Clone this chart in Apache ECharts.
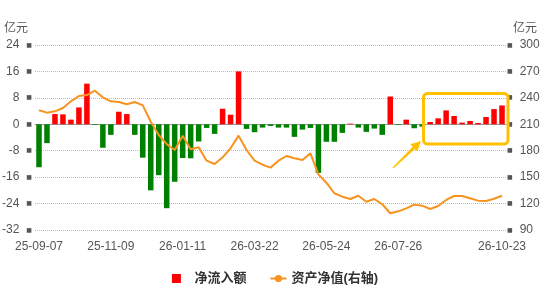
<!DOCTYPE html>
<html>
<head>
<meta charset="utf-8">
<script src="https://cdn.jsdelivr.net/npm/echarts@6/dist/echarts.min.js"></script>
<style>
	html, body { margin: 0; padding: 0; background: #fff; }
	#chart { width: 550px; height: 291px; }
</style>
</head>
<body>
<div id="chart"></div>
<script>
// weekly dates
var dates = [
	'25-09-07', '25-09-14', '25-09-21', '25-09-28', '25-10-05', '25-10-12', '25-10-19', '25-10-26', '25-11-02',
	'25-11-09', '25-11-16', '25-11-23', '25-11-30', '25-12-07', '25-12-14', '25-12-21', '25-12-28', '26-01-04',
	'26-01-11', '26-01-18', '26-01-25', '26-02-01', '26-02-08', '26-02-22', '26-03-01', '26-03-08', '26-03-15',
	'26-03-22', '26-03-29', '26-04-05', '26-04-12', '26-04-19', '26-04-26', '26-05-03', '26-05-10', '26-05-17',
	'26-05-24', '26-05-31', '26-06-07', '26-06-14', '26-06-21', '26-06-28', '26-07-05', '26-07-12', '26-07-19',
	'26-07-26', '26-08-02', '26-08-09', '26-08-16', '26-08-23', '26-08-30', '26-09-06', '26-09-13', '26-09-20',
	'26-09-27', '26-10-04', '26-10-11', '26-10-18', '26-10-23'
];

// 净流入额 (亿元)
var netFlow = [
	-13.0, -5.7, 3.1, 3.0, 1.4, 5.1, 12.3, -0.2, -7.1,
	-3.2, 3.8, 3.1, -3.2, -10.1, -20.0, -15.4, -25.4, -17.4,
	-10.2, -10.3, -5.2, -1.1, -2.9, 4.7, 2.9, 16.0, -1.4,
	-2.4, -1.0, -0.5, -1.0, -1.0, -3.8, -1.6, -1.1, -14.7,
	-5.3, -5.3, -2.6, 0.2, -1.0, -2.3, -1.3, -3.2, 8.4,
	-0.2, 1.4, -1.2, -0.7, 0.7, 1.8, 4.2, 2.5, 0.5,
	1.0, 0.4, 2.2, 4.6, 5.7
];

// 资产净值 (亿元, 右轴)
var netAsset = [
	225.9, 223.2, 224.7, 228.5, 236.1, 242.1, 243.2, 248.1, 240.6,
	236.1, 235.3, 232.7, 235.3, 231.5, 212.9, 197.8, 187.5, 180.8,
	197.1, 181.6, 183.9, 168.7, 164.9, 172.5, 182.7, 197.1, 180.8,
	168.7, 164.1, 160.8, 168.7, 174.0, 171.4, 169.5, 177.0, 153.2,
	143.7, 131.7, 127.8, 125.2, 128.9, 122.1, 125.2, 119.2, 109.0,
	111.2, 114.6, 118.8, 117.6, 113.8, 117.3, 124.1, 128.6, 128.6,
	126.0, 123.3, 122.9, 125.5, 128.9
];

var leftTicks = { min: -32, max: 24, step: 8 };
var rightTicks = { min: 90, max: 300, step: 30 };

var RED = '#FF0000';
var GREEN = '#008000';
var ORANGE = '#F7931E';
var YELLOW = '#FFC000';

var last = dates.length - 1;

var barData = [];
for (var i = 0; i < netFlow.length; i++) {
	var item = { value: netFlow[i] };
	if (netFlow[i] < 0) {
		item.itemStyle = { color: GREEN };
	}
	barData.push(item);
}

// arrow pointing at the highlighted box
function arrowShape(x0, y0, x1, y1) {
	var dx = x1 - x0, dy = y1 - y0;
	var len = Math.sqrt(dx * dx + dy * dy);
	var ux = dx / len, uy = dy / len;
	var px = -uy, py = ux;
	var bx = x1 - ux * 10, by = y1 - uy * 10;
	return [
		[x0 + px * 0.6, y0 + py * 0.6],
		[bx + px * 1.6, by + py * 1.6],
		[bx + px * 5, by + py * 5],
		[x1, y1],
		[bx - px * 5, by - py * 5],
		[bx - px * 1.6, by - py * 1.6],
		[x0 - px * 0.6, y0 - py * 0.6]
	];
}

var myChart = echarts.init(document.getElementById('chart'), null, { renderer: 'canvas' });

var gridLeft = 35, gridRight = 44, gridTop = 45, gridBottom = 61;

// y labels carry a small square glyph next to the number
var labelRich = {
	t: { color: '#555', fontSize: 12, lineHeight: 14 },
	g: { width: 7, fontSize: 12, lineHeight: 14 },
	sq: { color: '#555', fontSize: 6, lineHeight: 14, fontFamily: 'DejaVu Sans', verticalAlign: 'middle' }
};

var option = {
	animation: false,
	backgroundColor: '#fff',
	textStyle: {
		fontFamily: "'Liberation Sans', 'Noto Sans CJK SC', sans-serif"
	},
	grid: {
		left: gridLeft,
		right: gridRight,
		top: gridTop,
		bottom: gridBottom,
		containLabel: false,
		outerBoundsMode: 'none'
	},
	legend: {
		bottom: 1,
		left: 'center',
		itemWidth: 16,
		itemHeight: 9,
		itemGap: 23,
		textStyle: {
			color: '#333',
			fontSize: 13,
			fontWeight: 'bold'
		},
		data: [
			{ name: '净流入额', icon: 'path://M0,0H10V10H0Z', textStyle: { padding: [0, 0, 0, 5] } },
			{ name: '资产净值(右轴)' }
		]
	},
	xAxis: {
		type: 'category',
		data: dates,
		axisLine: { lineStyle: { color: '#999' } },
		axisTick: {
			length: 4,
			interval: function(idx) { return idx % 9 === 0 || idx === last; },
			lineStyle: { color: '#999' }
		},
		axisLabel: {
			color: '#555',
			fontSize: 12,
			margin: 11,
			interval: function(idx) { return (idx % 9 === 0 && idx < 54) || idx === last; }
		}
	},
	yAxis: [{
		type: 'value',
		name: '亿元',
		nameGap: 10,
		nameTextStyle: { color: '#555', fontSize: 12, align: 'right', padding: [0, 7, 0, 0] },
		min: leftTicks.min,
		max: leftTicks.max,
		interval: leftTicks.step,
		axisLine: { show: false },
		axisTick: { show: false },
		axisLabel: {
			margin: 3,
			formatter: function(v) { return '{t|' + v + '}{g|}{sq|■}'; },
			rich: labelRich
		},
		splitLine: { lineStyle: { type: 'dotted', color: '#bbb' } }
	}, {
		type: 'value',
		name: '亿元',
		nameGap: 10,
		nameTextStyle: { color: '#555', fontSize: 12, align: 'left', padding: [0, 0, 0, 7] },
		position: 'right',
		min: rightTicks.min,
		max: rightTicks.max,
		interval: rightTicks.step,
		axisLine: { show: false },
		axisTick: { show: false },
		axisLabel: {
			margin: 1,
			formatter: function(v) { return '{sq|■}{g|}{t|' + v + '}'; },
			rich: labelRich
		},
		splitLine: { show: false }
	}],
	graphic: [{
		type: 'rect',
		shape: { x: 423.5, y: 93.5, width: 84.5, height: 50.5, r: 4 },
		style: { fill: 'none', stroke: YELLOW, lineWidth: 3 },
		z: 100
	}, {
		type: 'polygon',
		shape: { points: arrowShape(393, 168, 421, 141) },
		style: { fill: YELLOW },
		z: 100
	}],
	series: [{
		name: '净流入额',
		type: 'bar',
		yAxisIndex: 0,
		itemStyle: { color: RED },
		data: barData
	}, {
		name: '资产净值(右轴)',
		type: 'line',
		yAxisIndex: 1,
		symbol: 'circle',
		symbolSize: 6,
		showSymbol: false,
		itemStyle: { color: ORANGE },
		lineStyle: { color: ORANGE, width: 2 },
		data: netAsset
	}]
};

myChart.setOption(option);
</script>
</body>
</html>
